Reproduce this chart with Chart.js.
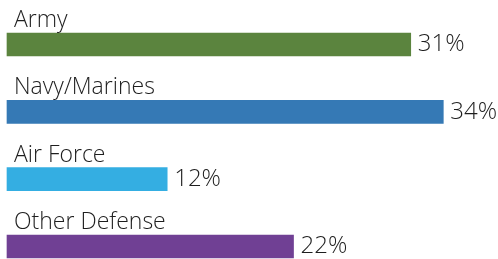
<!doctype html>
<html lang="en">
<head>
    <title>Defense Share</title>
    <script src="https://cdn.jsdelivr.net/npm/chart.js@4.4.1/dist/chart.umd.min.js"></script>
    <style>
        body { margin: 0; background: #fff; }
        #wrap { width: 498px; height: 259px; }
    </style>
</head>
<body>
<div id="wrap">
    <canvas id="chart" width="498" height="259"></canvas>
</div>

<script>
    const categories = ["Army", "Navy/Marines", "Air Force", "Other Defense"];
    const shares = [31.0, 33.5, 12.3, 22.0];
    const shareLabels = ["31%", "34%", "12%", "22%"];
    const barColors = ["#5B843E", "#3579B5", "#34AEE2", "#704094"];

    const fontFamily = "'Open Sans', 'Noto Sans', sans-serif";

    // names above the bars, percentages to the right
    const barText = {
        id: 'barText',
        afterDatasetsDraw(chart) {
            const ctx = chart.ctx;
            const meta = chart.getDatasetMeta(0);
            ctx.save();
            ctx.fillStyle = '#1e1e1e';
            meta.data.forEach(function (bar, i) {
                const top = bar.y - bar.height / 2;
                ctx.font = '300 23px ' + fontFamily;
                ctx.textAlign = 'left';
                ctx.textBaseline = 'alphabetic';
                ctx.fillText(categories[i], 14, top - 6);

                ctx.font = '300 24px ' + fontFamily;
                ctx.textBaseline = 'middle';
                ctx.fillText(shareLabels[i], bar.x + 7, bar.y);
            });
            ctx.restore();
        }
    };

    new Chart(document.getElementById('chart'), {
        type: 'bar',
        data: {
            labels: categories,
            datasets: [{
                data: shares,
                backgroundColor: barColors,
                barThickness: 23,
                clip: false,
            }],
        },
        options: {
            indexAxis: 'y',
            responsive: false,
            animation: false,
            layout: {
                padding: { left: 7, right: 0, top: 44.5, bottom: 12.5 },
            },
            plugins: {
                legend: { display: false },
                tooltip: { enabled: false },
            },
            scales: {
                x: { display: false, min: 0, max: 37.7 },
                y: { display: false, offset: false },
            },
        },
        plugins: [barText],
    });
</script>
</body>
</html>
